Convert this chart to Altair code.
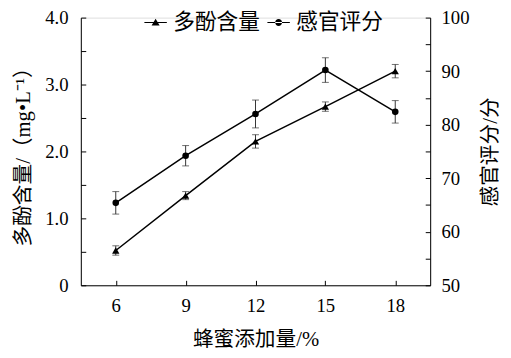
import altair as alt
import pandas as pd

# ---- data ----
honey = [6, 9, 12, 15, 18]                      # 蜂蜜添加量/%
poly = [0.52, 1.34, 2.15, 2.67, 3.20]           # 多酚含量 mg/L
poly_err = [0.07, 0.06, 0.10, 0.07, 0.10]
score = [65.4, 74.2, 82.0, 90.2, 82.4]          # 感官评分
score_err = [2.1, 1.9, 2.6, 2.3, 2.1]
series_names = ["多酚含量", "感官评分"]
x_ticks = [6, 9, 12, 15, 18]
left_ticks = [0, 0.5, 1, 1.5, 2, 2.5, 3, 3.5, 4]
right_ticks = [50, 55, 60, 65, 70, 75, 80, 85, 90, 95, 100]

FONT = "Liberation Serif, Noto Sans CJK SC"
W, H = 355, 272
XD = [4.5, 19.5]
YL = [0, 4]
YR = [50, 100]
INWARD = {"expr": "-5"}

pdf = pd.DataFrame({"x": honey, "y": poly, "lo": [v - e for v, e in zip(poly, poly_err)],
                    "hi": [v + e for v, e in zip(poly, poly_err)]})
sdf = pd.DataFrame({"x": honey, "y": score, "lo": [v - e for v, e in zip(score, score_err)],
                    "hi": [v + e for v, e in zip(score, score_err)]})
pends = pd.DataFrame({"x": honey + honey, "v": list(pdf["lo"]) + list(pdf["hi"])})
sends = pd.DataFrame({"x": honey + honey, "v": list(sdf["lo"]) + list(sdf["hi"])})
ldf = pd.DataFrame({"series": series_names})


def xs(axis=None):
    return alt.X("x:Q", scale=alt.Scale(domain=XD, nice=False, zero=False), axis=axis)


def ys(field, dom, axis=None):
    return alt.Y(field, scale=alt.Scale(domain=dom, nice=False, zero=False), axis=axis)


common = dict(labelFontSize=19, labelFont=FONT, labelColor="black",
              titleFontSize=21, titleFont=FONT, titleFontWeight="normal", titleColor="black",
              domainColor="black", domainWidth=1, grid=False, ticks=True,
              tickSize=INWARD, tickColor="black", tickWidth=1)

main_x_axis = alt.Axis(orient="bottom", values=x_ticks, title="蜂蜜添加量/%",
                       labelPadding=17, titlePadding=13, **common)
left_axis = alt.Axis(orient="left", values=left_ticks, labelPadding=18,
                     labelExpr="datum.value == 0 ? '0' : (datum.value % 1 == 0 ? format(datum.value, '.1f') : '')",
                     title="多酚含量/（mg•L⁻¹）", titlePadding=11, **common)
right_axis = alt.Axis(orient="right", values=right_ticks, labelPadding=16,
                      labelExpr="datum.value % 10 == 0 ? format(datum.value, 'd') : ''",
                      title="感官评分/分", titleAngle=270, titleBaseline="top",
                      titlePadding=11, **common)

# polyphenol series
p_line = alt.Chart(pdf).mark_line(color="black", strokeWidth=1.5).encode(
    x=xs(main_x_axis), y=ys("y:Q", YL, left_axis))
p_rule = alt.Chart(pdf).mark_rule(color="#333", strokeWidth=1).encode(
    x=xs(), y=ys("lo:Q", YL), y2="hi:Q")
p_cap = alt.Chart(pends).mark_tick(color="#333", orient="horizontal", size=7, thickness=1).encode(
    x=xs(), y=ys("v:Q", YL))
p_pts = alt.Chart(pdf).mark_point(shape="triangle-up", filled=True, color="black", size=55, opacity=1).encode(
    x=xs(), y=ys("y:Q", YL))

# sensory series
s_line = alt.Chart(sdf).mark_line(color="black", strokeWidth=1.5).encode(
    x=xs(), y=ys("y:Q", YR, right_axis))
s_rule = alt.Chart(sdf).mark_rule(color="#333", strokeWidth=1).encode(
    x=xs(), y=ys("lo:Q", YR), y2="hi:Q")
s_cap = alt.Chart(sends).mark_tick(color="#333", orient="horizontal", size=7, thickness=1).encode(
    x=xs(), y=ys("v:Q", YR))
s_pts = alt.Chart(sdf).mark_point(shape="circle", filled=True, color="black", size=45, opacity=1).encode(
    x=xs(), y=ys("y:Q", YR))

# legend (line-through-marker symbols drawn as filled paths)
line_part = "M-0.95,-0.045H0.95V0.045H-0.95Z"
tri_path = line_part + "M0,-0.33L0.34,0.26L-0.34,0.26Z"
circ_path = line_part + "M-0.29,0A0.29,0.29 0 1,0 0.29,0A0.29,0.29 0 1,0 -0.29,0Z"
legend_layer = alt.Chart(ldf).transform_filter("false").mark_point(
    filled=True, color="black", opacity=1).encode(
    shape=alt.Shape("series:N", scale=alt.Scale(domain=series_names, range=[tri_path, circ_path]),
                    legend=alt.Legend(orient="none", legendX=64, legendY=-7, direction="horizontal",
                                      title=None, symbolSize=576, symbolFillColor="black",
                                      symbolStrokeWidth=0, symbolOpacity=1,
                                      labelFontSize=22, labelFont=FONT,
                                      labelColor="black", labelOffset=6, columnPadding=6,
                                      padding=0, labelLimit=300)))

chart = alt.layer(
    p_line, p_rule, p_cap, p_pts, s_line, s_rule, s_cap, s_pts, legend_layer
).resolve_scale(x="independent", y="independent").resolve_axis(
    x="independent", y="independent").properties(
    width=W, height=H,
    autosize=alt.AutoSizeParams(type="none"),
    padding={"left": 74, "top": 7, "right": 74, "bottom": 63},
).configure_view(stroke=None).configure(background="white")

chart.save("out.html", embed_options={"renderer": "svg", "actions": False})
